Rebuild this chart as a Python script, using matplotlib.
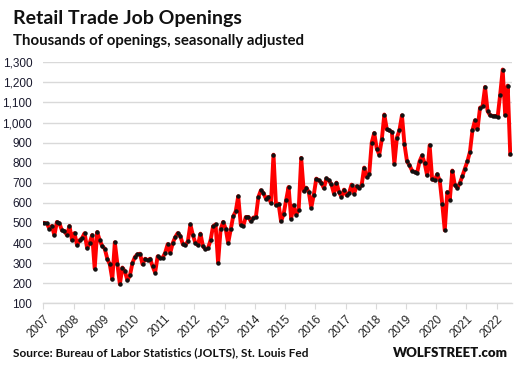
import matplotlib
matplotlib.use("Agg")
import matplotlib.pyplot as plt
import numpy as np

# Monthly data, Jan 2007 - Jun 2022 (thousands)
start_year = 2007
values = [
    500, 498, 472, 485, 439, 505, 498, 463, 460, 439, 485, 415,
    450, 389, 414, 425, 449, 374, 400, 440, 273, 455, 414, 385,
    372, 322, 294, 219, 404, 297, 195, 278, 259, 214, 239, 301,
    331, 344, 347, 294, 322, 314, 322, 284, 253, 334, 326, 327,
    352, 395, 350, 400, 430, 450, 435, 394, 389, 409, 493, 439,
    400, 389, 447, 384, 369, 374, 414, 483, 493, 302, 468, 505,
    472, 400, 468, 533, 558, 633, 492, 485, 530, 530, 508, 527,
    530, 629, 663, 649, 621, 629, 600, 840, 588, 596, 508, 543,
    613, 679, 522, 588, 541, 566, 824, 659, 676, 654, 576, 641,
    721, 712, 701, 673, 722, 712, 692, 646, 701, 654, 630, 666,
    638, 649, 691, 646, 683, 676, 688, 776, 729, 743, 900, 948,
    870, 840, 916, 1040, 966, 961, 953, 795, 925, 961, 1036, 892,
    807, 787, 761, 754, 749, 807, 836, 798, 737, 887, 717, 712,
    743, 712, 596, 463, 654, 616, 761, 688, 674, 699, 733, 771,
    807, 854, 961, 1011, 966, 1074, 1080, 1177, 1057, 1036, 1033, 1033,
    1028, 1139, 1264, 1036, 1184, 842,
]
year_labels = [str(y) for y in range(2007, 2023)]
y_ticks = list(range(100, 1301, 100))

W, H = 515, 370
fig = plt.figure(figsize=(W / 100, H / 100), dpi=100)

left_px, right_px, top_px, bot_px = 43.3, 512.0, 62.3, 303.3
ax = fig.add_axes([left_px / W, 1 - bot_px / H, (right_px - left_px) / W, (bot_px - top_px) / H])

x = np.arange(len(values))
ax.plot(x, values, color="#FF0000", lw=2.8, zorder=3, solid_joinstyle="round")
ax.plot(x, values, ls="none", marker="o", ms=2.2, color="#111111", zorder=4)

ax.set_ylim(100, 1300)
ax.set_xlim(-0.4, 185.7)
ax.set_yticks(y_ticks)
ax.set_yticklabels([f"{v:,}" for v in y_ticks], family="Liberation Sans")
ax.grid(axis="y", color="#D9D9D9", lw=1.0)
ax.set_axisbelow(True)

tick_pos = [12 * i - 0.4 for i in range(len(year_labels))]
ax.set_xticks(tick_pos)
ax.set_xticklabels(year_labels, rotation=45, ha="right", va="top", rotation_mode="anchor",
                   family="Liberation Sans")

for s in ["top", "right", "left"]:
    ax.spines[s].set_visible(False)
ax.spines["bottom"].set_color("#D9D9D9")
ax.spines["bottom"].set_linewidth(1.0)
ax.tick_params(axis="x", length=4, color="#D9D9D9", labelsize=8.5, labelcolor="#222222", pad=3)
ax.tick_params(axis="y", length=0, labelsize=8.5, labelcolor="#1a1a2e", pad=8)

fig.text(13 / W, 1 - 10 / H, "Retail Trade Job Openings", fontsize=14, fontweight="bold",
         family="Lato", va="top", ha="left", color="#111111")
fig.text(13 / W, 1 - 34 / H, "Thousands of openings, seasonally adjusted", fontsize=10.8,
         fontweight="bold", family="Lato", va="top", ha="left", color="#111111")
fig.text(13 / W, 1 - 353 / H, "Source: Bureau of Labor Statistics (JOLTS), St. Louis Fed",
         fontsize=8.6, fontweight="bold", family="Lato", va="center", ha="left", color="#111111")
fig.text(508 / W, 1 - 353 / H, "WOLFSTREET.com", fontsize=9.5, fontweight="heavy",
         family="Lato", va="center", ha="right", color="#111111")

fig.savefig("out.png", dpi=100)
